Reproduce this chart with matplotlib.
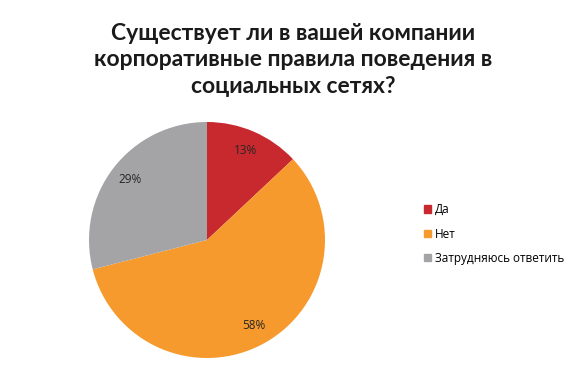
import matplotlib.pyplot as plt
import matplotlib.patches as mpatches

# Donnees
categories = ["Да", "Нет", "Затрудняюсь ответить"]
valeurs = [13, 58, 29]
couleurs = ["#C8292E", "#F79A2D", "#A4A4A7"]
titre = "Существует ли в вашей компании\nкорпоративные правила поведения в\nсоциальных сетях?"

W, H = 586, 368
fig = plt.figure(figsize=(W / 100, H / 100), dpi=100)
fig.patch.set_facecolor("white")

# Camembert : centre (207, 240), rayon 118 px
cx, cy, r = 207, 240, 118
ax = fig.add_axes([(cx - r) / W, (H - cy - r) / H, 2 * r / W, 2 * r / H])
ax.pie(valeurs, colors=couleurs, startangle=90, counterclock=False,
       autopct="%d%%", pctdistance=0.83, radius=1.0,
       textprops={"fontsize": 8.5, "color": "#262626", "family": "Open Sans"},
       wedgeprops={"linewidth": 0})
ax.set_xlim(-1, 1)
ax.set_ylim(-1, 1)
ax.axis("off")

# Titre
fig.text(0.5, 1 - 60 / H, titre, ha="center", va="center",
         fontsize=16.5, fontweight="bold", color="#1a1a1a",
         family="Lato", linespacing=1.3)

# Legende
poignees = []
for nom, c in zip(categories, couleurs):
    poignees.append(mpatches.Patch(color=c, label=nom))
fig.legend(handles=poignees, loc="center left",
           bbox_to_anchor=(413 / W, 1 - 234 / H),
           frameon=False, handlelength=0.6, handleheight=0.6,
           handletextpad=0.35, labelspacing=0.95,
           prop={"family": "Open Sans", "size": 8.5})

plt.savefig("out.png", dpi=100, facecolor="white")
